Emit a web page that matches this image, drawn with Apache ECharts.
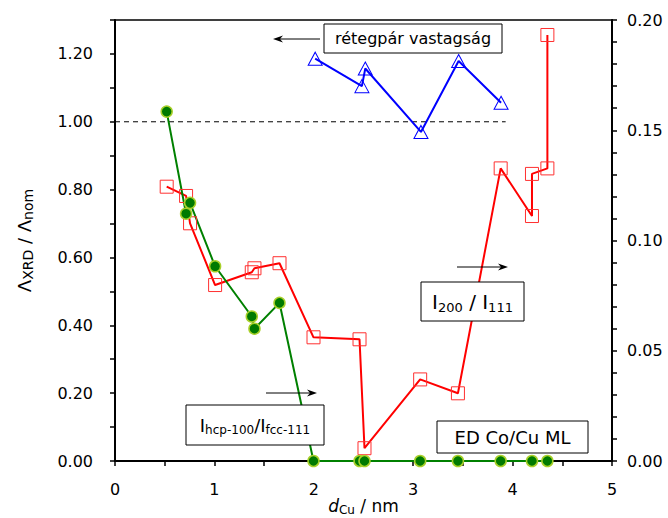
<!DOCTYPE html>
<html>
<head>
<meta charset="utf-8">
<script src="https://cdn.jsdelivr.net/npm/echarts@6/dist/echarts.min.js"></script>
<style>
  html, body { margin: 0; padding: 0; background: #fff; }
  #chart { width: 668px; height: 518px; }
</style>
</head>
<body>
<div id="chart"></div>
<script>
// d_Cu values (nm) and ratios
const greenX = [0.52, 0.715, 0.755, 1.007, 1.376, 1.403, 1.655, 1.997, 2.46, 2.51, 3.07, 3.45, 3.88, 4.195, 4.35];
const greenY = [1.03, 0.729, 0.761, 0.574, 0.426, 0.390, 0.466, 0, 0, 0, 0, 0, 0, 0, 0];

const redX = [0.52, 0.715, 0.755, 1.007, 1.376, 1.403, 1.655, 1.997, 2.46, 2.51, 3.07, 3.45, 3.88, 4.195, 4.195, 4.35, 4.35];
const redY = [0.1244, 0.1202, 0.1078, 0.0798, 0.0856, 0.0874, 0.0897, 0.0561, 0.0552, 0.0058, 0.0370, 0.0307, 0.1327, 0.1111, 0.1302, 0.1327, 0.1932];

const blueX = [2.014, 2.484, 2.518, 3.078, 3.457, 3.884];
const blueY = [1.186, 1.105, 1.157, 0.970, 1.179, 1.056];

const refX = [0, 3.93];
const refY = [1, 1];

const FONT = 'DejaVu Sans';

function pairs(xs, ys) {
    return xs.map((x, i) => [x, ys[i]]);
}

function box(x, y, w, h, text, rich) {
    return [
        { type: 'rect', shape: { x: x, y: y, width: w, height: h },
          style: { fill: '#fff', stroke: '#000', lineWidth: 1 }, z: 100 },
        { type: 'text', x: x + w / 2, y: y + h / 2, z: 101,
          style: { text: text, rich: rich, fill: '#000', fontFamily: FONT,
                   align: 'center', verticalAlign: 'middle',
                   textAlign: 'center', textVerticalAlign: 'middle' } }
    ];
}

function arrow(x1, x2, y) {
    const d = x2 > x1 ? -1 : 1;
    return [
        { type: 'line', shape: { x1: x1, y1: y, x2: x2 + d * 4, y2: y },
          style: { stroke: '#000', lineWidth: 1 }, z: 100 },
        { type: 'polygon', z: 100,
          shape: { points: [[x2, y], [x2 + d * 10, y - 3.5], [x2 + d * 7, y], [x2 + d * 10, y + 3.5]] },
          style: { fill: '#000' } }
    ];
}

const sub = (size) => ({ fontSize: size, fontFamily: FONT, lineHeight: size, verticalAlign: 'bottom' });
const main = (size, lh) => ({ fontSize: size, fontFamily: FONT, lineHeight: lh, verticalAlign: 'middle' });

const chart = echarts.init(document.getElementById('chart'), null, { renderer: 'svg' });

chart.setOption({
    animation: false,
    backgroundColor: '#fff',
    grid: {
        left: 115, right: 56, top: 20, bottom: 57,
        show: true, borderColor: '#000', borderWidth: 1.5,
        containLabel: false, outerBoundsMode: 'none'
    },
    xAxis: {
        type: 'value', min: 0, max: 5, interval: 0.5,
        name: '{i|d}{s|Cu}{n| / nm}',
        nameLocation: 'middle', nameGap: 35, nameMoveOverlap: false,
        nameTextStyle: {
            rich: {
                i: Object.assign(main(17, 20), { fontStyle: 'italic' }),
                s: sub(12),
                n: main(17, 20)
            }
        },
        axisLine: { lineStyle: { color: '#000', width: 2 } },
        axisTick: { length: 5, lineStyle: { color: '#000', width: 1.5 } },
        splitLine: { show: false },
        axisLabel: {
            margin: 20, color: '#000', fontSize: 16, fontFamily: FONT,
            formatter: v => Math.abs(v - Math.round(v)) < 1e-6 ? String(Math.round(v)) : ''
        }
    },
    yAxis: [{
        type: 'value', min: 0, max: 1.3, interval: 0.1,
        name: '{n|Λ}{s|XRD}{n| / Λ}{s|nom}',
        nameLocation: 'middle', nameGap: 80, nameMoveOverlap: false,
        nameTextStyle: {
            rich: { n: main(18, 22), s: sub(14) }
        },
        axisLine: { show: true, lineStyle: { color: '#000', width: 2 } },
        axisTick: { show: true, length: 5, lineStyle: { color: '#000', width: 1.5 } },
        splitLine: { show: false },
        axisLabel: {
            margin: 22, color: '#000', fontSize: 16, fontFamily: FONT,
            formatter: v => {
                const k = Math.round(v * 10);
                return (k % 2 === 0 && k <= 12) ? v.toFixed(2) : '';
            }
        }
    }, {
        type: 'value', min: 0, max: 0.2, interval: 0.01, position: 'right',
        axisLine: { show: true, lineStyle: { color: '#000', width: 2 } },
        axisTick: { show: true, length: 5, lineStyle: { color: '#000', width: 1.5 } },
        splitLine: { show: false },
        axisLabel: {
            margin: 15, color: '#000', fontSize: 16, fontFamily: FONT,
            formatter: v => {
                const k = Math.round(v * 100);
                return k % 5 === 0 ? v.toFixed(2) : '';
            }
        }
    }],
    series: [{
        name: 'ref', type: 'line', yAxisIndex: 0,
        data: pairs(refX, refY), symbol: 'none', silent: true,
        lineStyle: { color: '#000', width: 1, type: [5, 4] }
    }, {
        name: 'rétegpár vastagság', type: 'line', yAxisIndex: 0, clip: false,
        data: pairs(blueX, blueY),
        symbol: 'triangle', symbolSize: [14, 13],
        itemStyle: { color: 'rgba(0,0,0,0)', borderColor: '#0000FF', borderWidth: 1 },
        lineStyle: { color: '#0000FF', width: 2 }
    }, {
        name: 'I200 / I111', type: 'line', yAxisIndex: 1, clip: false,
        data: pairs(redX, redY),
        symbol: 'rect', symbolSize: 13,
        itemStyle: { color: 'rgba(0,0,0,0)', borderColor: '#FF3030', borderWidth: 1 },
        lineStyle: { color: '#FF0000', width: 2 }
    }, {
        name: 'Ihcp-100/Ifcc-111', type: 'line', yAxisIndex: 0, clip: false,
        data: pairs(greenX, greenY),
        symbol: 'circle', symbolSize: 11,
        itemStyle: { color: '#007A00', borderColor: '#A8D02A', borderWidth: 1.5 },
        lineStyle: { color: '#008000', width: 2 }
    }],
    graphic: [].concat(
        arrow(320, 273, 39),
        box(324, 24, 178, 29, '{n|rétegpár vastagság}', { n: main(16, 20) }),
        arrow(457, 508, 267),
        box(421, 282, 103, 39, '{n|I}{s|200}{n| / I}{s|111}', { n: main(20, 24), s: sub(13) }),
        arrow(266, 317, 393),
        box(186, 405, 138, 40, '{n|I}{s|hcp-100}{n|/I}{s|fcc-111}', { n: main(18, 22), s: sub(12) }),
        box(437, 421, 151, 32, '{n|ED Co/Cu ML}', { n: main(18, 22) })
    )
});
</script>
</body>
</html>
